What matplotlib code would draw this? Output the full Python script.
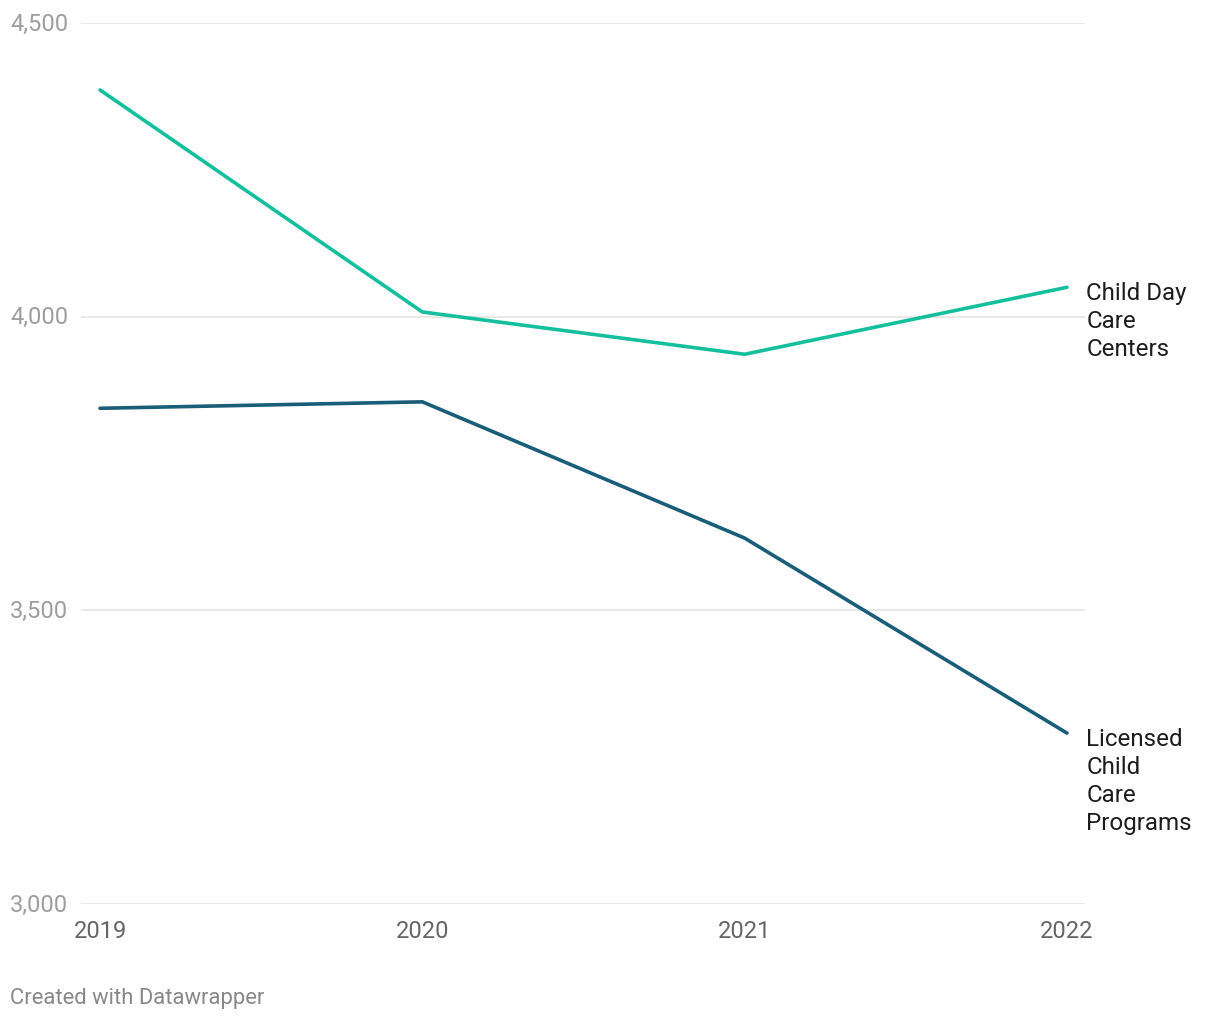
import matplotlib
matplotlib.use('Agg')
import matplotlib.pyplot as plt
import matplotlib.transforms as mtrans

plt.rcParams['font.family'] = ['Roboto', 'DejaVu Sans']

years = [2019, 2020, 2021, 2022]
day_care_centers = [4386, 4008, 3936, 4050]
licensed_programs = [3844, 3855, 3623, 3291]
series_labels = ['Child Day\nCare\nCenters', 'Licensed\nChild\nCare\nPrograms']
y_ticks = [3000, 3500, 4000, 4500]

colors = ['#14bf9e', '#195e79']

fig = plt.figure(figsize=(12.2, 10.2), dpi=100)
ax = fig.add_axes([81 / 1220, 1 - 905 / 1020, (1085 - 81) / 1220, (905 - 24) / 1020])

for vals, col, lab in zip([day_care_centers, licensed_programs], colors, series_labels):
    ax.plot(years, vals, color=col, lw=2.6, solid_capstyle='round', zorder=3)
    ax.annotate(lab, xy=(years[-1], vals[-1]), xytext=(14, 4.5), textcoords='offset points',
                ha='left', va='top', fontsize=17.4, color='#1d1d1d', linespacing=1.28,
                annotation_clip=False)

ax.set_xlim(2018.941, 2022.056)
ax.set_ylim(3000, 4500)
ax.set_yticks(y_ticks)
ax.set_xticks(years)
ax.grid(axis='y', color='#e3e3e3', lw=1.1)
ax.set_axisbelow(True)
for s in ax.spines.values():
    s.set_visible(False)
ax.tick_params(length=0)
ax.set_xticklabels([])
ax.set_yticklabels([])

# y tick labels, left aligned near the figure edge
ylab_tr = mtrans.blended_transform_factory(fig.transFigure, ax.transData)
for t in y_ticks:
    ax.text(10 / 1220, t, '{:,}'.format(t), transform=ylab_tr,
            ha='left', va='center', fontsize=17, color='#9e9e9e')

xlab_tr = mtrans.blended_transform_factory(ax.transData, ax.transAxes)
for yr in years:
    ax.text(yr, -0.017, str(yr), transform=xlab_tr,
            ha='center', va='top', fontsize=17, color='#666666')

fig.text(10 / 1220, 1 - 999 / 1020, 'Created with Datawrapper', ha='left', va='center',
         fontsize=15.8, color='#888888')

fig.savefig('out.png', dpi=100, facecolor='white')
